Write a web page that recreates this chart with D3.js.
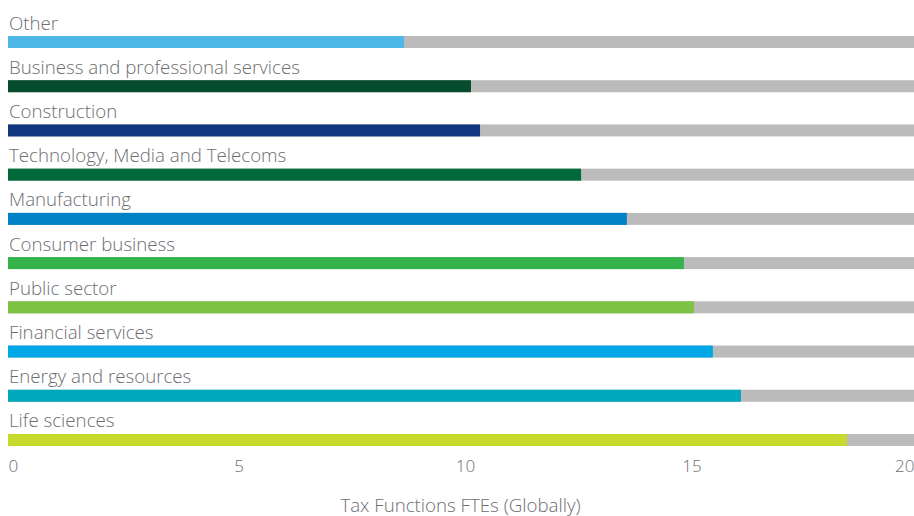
<!DOCTYPE html>
<html><head><meta charset="utf-8">
<script src="https://cdn.jsdelivr.net/npm/d3@7"></script>
<style>
html,body{margin:0;padding:0;background:#fff;}
text{font-family:"Open Sans",sans-serif;}
</style></head>
<body><svg id="c" width="914" height="516"></svg>
<script>
const categories = ["Other","Business and professional services","Construction","Technology, Media and Telecoms","Manufacturing","Consumer business","Public sector","Financial services","Energy and resources","Life sciences"];
const values = [8.74,10.22,10.42,12.65,13.66,14.92,15.14,15.56,16.18,18.52];
const colors = ["#4db7e8","#064b2c","#12367f","#006a3a","#0080c5","#33b34a","#7dc242","#00a8e8","#00a7bd","#c6d92c"];
const ticks = [0,5,10,15,20];
const axisTitle = "Tax Functions FTEs (Globally)";
const maxValue = 20;

const svg = d3.select("#c");
const x = d3.scaleLinear().domain([0,maxValue]).range([8,914]);
const y = d3.scaleBand().domain(categories).range([36,478.2]).paddingInner(0).paddingOuter(0);
const barH = 12;
const textCol = "#6d6e71";

const g = svg.selectAll("g.row").data(categories).join("g").attr("class","row");
g.append("rect").attr("x",x(0)).attr("y",d=>y(d)).attr("width",x(maxValue)-x(0)).attr("height",barH).attr("fill","#babbba");
g.append("rect").attr("x",x(0)).attr("y",d=>y(d)).attr("width",(d,i)=>x(values[i])-x(0)).attr("height",barH).attr("fill",(d,i)=>colors[i]);
g.append("text").attr("x",x(0)+1).attr("y",d=>y(d)-6.5).attr("font-size",18.7).attr("font-weight",300).attr("fill",textCol).text(d=>d);

const axis = d3.axisBottom(x).tickValues(ticks).tickSize(0).tickPadding(0).tickFormat(d3.format("d"));
const ag = svg.append("g").attr("transform","translate(0,460)").call(axis);
ag.select(".domain").remove();
ag.selectAll("text").attr("font-size",17).attr("font-weight",300).attr("fill",textCol).attr("dy","0.71em")
  .attr("text-anchor",(d,i)=>i===0?"start":(i===ticks.length-1?"end":"middle"))
  .attr("dx",(d,i)=>i===0||i===ticks.length-1?0:4)
  .style("font-family","'Open Sans',sans-serif");

svg.append("text").attr("x",460.5).attr("y",512).attr("text-anchor","middle").attr("font-size",18.7).attr("font-weight",300).attr("fill",textCol).text(axisTitle);
</script></body></html>
